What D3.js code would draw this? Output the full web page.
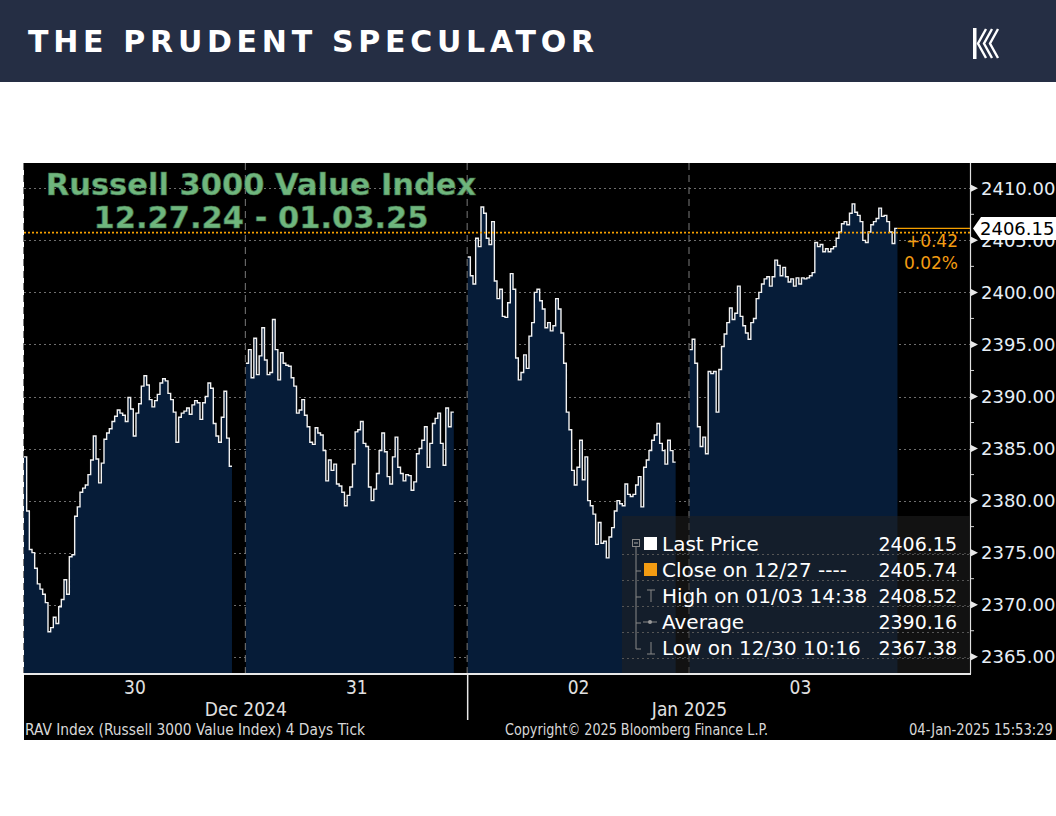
<!DOCTYPE html>
<html><head><meta charset="utf-8">
<script src="https://cdn.jsdelivr.net/npm/d3@7"></script>
<style>
html,body{margin:0;padding:0;background:#fff;}
svg{display:block;}
</style></head>
<body>
<svg id="c" width="1056" height="816"></svg>
<script>
// ---------------- DATA ----------------
const brand = "THE PRUDENT SPECULATOR";
const titleLine1 = "Russell 3000 Value Index";
const titleLine2 = "12.27.24 - 01.03.25";
const dayLabels = ["30", "31", "02", "03"];
const monthLabels = ["Dec 2024", "Jan 2025"];
const monthSpans = [[0, 2], [2, 4]];           // in day slots
// 5-minute steps, 09:30-16:00
const dec30 = [2384.2,2379.0,2375.3,2375.0,2373.5,2372.0,2371.5,2371.0,2370.2,2367.4,
2367.8,2368.8,2368.2,2369.8,2370.5,2372.4,2371.0,2374.6,2374.8,2378.5,
2379.4,2380.8,2381.2,2381.5,2382.5,2383.9,2386.2,2384.0,2381.7,2383.6,
2385.9,2386.5,2386.9,2387.6,2388.1,2388.7,2388.4,2388.2,2387.6,2389.9,
2388.8,2386.2,2388.4,2389.3,2391.0,2392.0,2391.1,2389.7,2389.0,2389.6,
2390.2,2391.3,2391.7,2391.5,2390.3,2389.7,2388.5,2385.6,2388.0,2388.4,
2388.6,2388.9,2388.3,2389.2,2389.6,2389.4,2387.8,2389.4,2390.0,2391.3,
2390.8,2387.4,2386.2,2385.6,2388.0,2390.5,2386.0,2383.3];
const dec31 = [2393.2,2394.5,2391.8,2395.6,2392.1,2393.9,2396.6,2393.5,2392.1,2392.3,
2397.4,2394.5,2391.6,2394.2,2393.2,2393.0,2392.9,2391.8,2391.0,2388.4,
2388.7,2389.7,2388.2,2387.1,2385.6,2385.4,2387.0,2386.5,2386.3,2384.8,
2381.9,2383.9,2382.9,2383.5,2381.6,2381.4,2380.8,2379.5,2380.5,2381.3,
2383.5,2386.6,2386.8,2387.6,2385.5,2385.2,2381.3,2380.0,2381.1,2382.6,
2384.8,2386.5,2384.7,2382.3,2381.6,2384.2,2386.1,2383.2,2382.6,2381.9,
2382.5,2382.4,2381.0,2381.8,2384.5,2385.0,2385.8,2387.1,2383.2,2385.5,
2387.4,2387.9,2388.4,2385.5,2383.4,2388.9,2387.1,2388.5];
const jan02 = [2403.4,2401.6,2400.8,2405.2,2404.4,2408.2,2407.6,2405.2,2404.6,2406.8,
2401.1,2399.4,2400.3,2397.7,2397.6,2399.0,2401.8,2400.3,2393.7,2391.6,
2392.3,2394.0,2392.7,2395.8,2397.1,2400.0,2400.3,2399.2,2398.4,2396.6,
2397.1,2396.3,2396.8,2399.4,2398.4,2396.1,2393.2,2388.5,2386.8,2382.9,
2381.5,2383.2,2385.8,2382.0,2384.2,2380.0,2379.5,2378.7,2375.8,2377.9,
2375.9,2376.1,2374.5,2376.5,2377.4,2379.0,2380.0,2379.7,2379.5,2381.6,
2380.6,2380.4,2380.6,2381.5,2382.3,2379.4,2383.2,2383.9,2384.8,2385.8,
2386.3,2387.4,2385.5,2384.8,2383.5,2385.8,2384.8,2383.7];
const jan03 = [2394.5,2395.5,2393.2,2387.1,2385.2,2386.1,2384.5,2392.4,2392.2,2392.4,
2388.5,2392.6,2394.8,2396.0,2397.1,2398.5,2397.4,2398.0,2400.6,2397.7,
2396.8,2396.1,2395.5,2397.1,2397.5,2399.4,2400.0,2400.8,2401.3,2401.5,
2400.6,2401.5,2403.1,2402.6,2401.6,2402.4,2401.5,2401.0,2401.3,2400.6,
2401.4,2400.8,2401.4,2401.3,2401.4,2401.6,2401.9,2404.8,2404.4,2404.6,
2403.9,2404.2,2403.9,2404.2,2404.4,2405.2,2405.8,2406.6,2406.8,2406.5,
2407.6,2408.5,2407.7,2407.4,2406.8,2405.0,2404.8,2405.8,2406.5,2406.8,
2407.1,2408.1,2407.3,2407.4,2406.8,2405.8,2404.7,2406.15];
const days = [dec30, dec31, jan02, jan03];
const yTicks = [2365, 2370, 2375, 2380, 2385, 2390, 2395, 2400, 2405, 2410];
const yMinorTicks = [2367.5, 2372.5, 2377.5, 2382.5, 2387.5, 2392.5, 2397.5, 2402.5, 2407.5];
const prevClose = 2405.74;
const lastPrice = 2406.15;
const changeLabels = ["+0.42", "0.02%"];
const legendLabels = ["Last Price", "Close on 12/27 ----", "High on 01/03 14:38", "Average", "Low on 12/30 10:16"];
const legendValues = ["2406.15", "2405.74", "2408.52", "2390.16", "2367.38"];
const legendIcons = ["white", "orange", "high", "avg", "low"];
const footerLeft = "RAV Index (Russell 3000 Value Index) 4 Days  Tick";
const footerMid = "Copyright\u00a9 2025 Bloomberg Finance L.P.";
const footerRight = "04-Jan-2025 15:53:29";

// ---------------- LAYOUT ----------------
const W = 1056, H = 816;
const P = {left: 24, right: 970, top: 163, bottom: 673};
const stepMin = 5, slotMin = 416, totalMin = 1774;
const svg = d3.select("#c");

// header
svg.append("rect").attr("x", 0).attr("y", 0).attr("width", W).attr("height", 82).attr("fill", "#252e44");
svg.append("text").attr("x", 28).attr("y", 52).text(brand)
  .attr("font-family", "'DejaVu Sans', sans-serif").attr("font-weight", "bold")
  .attr("font-size", 30).attr("fill", "#fff")
  .attr("textLength", 566).attr("lengthAdjust", "spacing");
// logo (stylised striped K)
const logo = svg.append("g").attr("stroke", "#fff").attr("stroke-width", 2.4).attr("fill", "none");
[0, 6, 12].forEach(o => {
  logo.append("polyline").attr("points", `${986 + o},29 ${978 + o},43.5 ${986 + o},58`);
});
svg.append("rect").attr("x", 973).attr("y", 28).attr("width", 3.5).attr("height", 31).attr("fill", "#fff");

// chart background
svg.append("rect").attr("x", P.left).attr("y", P.top).attr("width", W - P.left).attr("height", 740 - P.top).attr("fill", "#000");

const x = d3.scaleLinear().domain([0, totalMin]).range([P.left, P.right]);
const y = d3.scaleLinear().domain([2363.44, 2412.43]).range([P.bottom, P.top]);
const xOf = (d, i) => x(d * slotMin + i * stepMin);

// grid
svg.append("g").selectAll("line").data(yTicks).join("line")
  .attr("x1", P.left).attr("x2", P.right).attr("y1", d => Math.round(y(d)) + 0.5).attr("y2", d => Math.round(y(d)) + 0.5)
  .attr("stroke", "#6e6e6e").attr("stroke-width", 1).attr("stroke-dasharray", "2,3");

// areas + lines
const area = d3.area().curve(d3.curveStepAfter).x(p => p[0]).y0(P.bottom).y1(p => p[1]);
const line = d3.line().curve(d3.curveStepAfter).x(p => p[0]).y(p => p[1]);
days.forEach((vals, d) => {
  const pts = vals.map((v, i) => [xOf(d, i), y(v)]);
  pts.push([xOf(d, vals.length), y(vals[vals.length - 1])]);
  svg.append("path").attr("d", area(pts)).attr("fill", "#061c38");
  svg.append("path").attr("d", line(pts)).attr("fill", "none").attr("stroke", "#f2f2f2").attr("stroke-width", 1.4);
});

// day separators
svg.append("g").selectAll("line").data(d3.range(4)).join("line")
  .attr("x1", d => x(d * slotMin) - 0.5).attr("x2", d => x(d * slotMin) - 0.5)
  .attr("y1", P.top).attr("y2", P.bottom)
  .attr("stroke", "#7a7a7a").attr("stroke-width", 1).attr("stroke-dasharray", "7,5");

// previous close line
svg.append("line").attr("x1", P.left).attr("x2", P.right).attr("y1", y(prevClose)).attr("y2", y(prevClose))
  .attr("stroke", "#f5a000").attr("stroke-width", 1.8).attr("stroke-dasharray", "2,2");
// last price continuation
svg.append("line").attr("x1", xOf(3, jan03.length)).attr("x2", P.right).attr("y1", y(lastPrice)).attr("y2", y(lastPrice))
  .attr("stroke", "#f5a000").attr("stroke-width", 1.2);

// title
const tg = svg.append("g").attr("font-family", "'DejaVu Sans', sans-serif").attr("font-weight", "bold")
  .attr("font-size", 30.5).attr("fill", "#6fb67d").attr("text-anchor", "middle")
  .attr("stroke", "#3d6b47").attr("stroke-width", 0.6);
tg.append("text").attr("x", 261).attr("y", 195).text(titleLine1);
tg.append("text").attr("x", 261).attr("y", 228).text(titleLine2);

// change labels
const cg = svg.append("g").attr("font-family", "'DejaVu Sans', sans-serif").attr("font-size", 17)
  .attr("fill", "#f39c12").attr("text-anchor", "end");
cg.append("text").attr("x", 958).attr("y", 247).text(changeLabels[0]);
cg.append("text").attr("x", 958).attr("y", 269).text(changeLabels[1]);

// right axis
svg.append("line").attr("x1", P.right + 0.5).attr("x2", P.right + 0.5).attr("y1", P.top).attr("y2", P.bottom + 1)
  .attr("stroke", "#e0e0e0").attr("stroke-width", 1.2);
const ax = svg.append("g");
ax.selectAll("path.maj").data(yTicks).join("path").attr("class", "maj")
  .attr("d", d => `M${P.right + 1},${y(d) - 3.5}L${P.right + 8},${y(d)}L${P.right + 1},${y(d) + 3.5}Z`)
  .attr("fill", "#e8e8e8");
ax.selectAll("line.min").data(yMinorTicks).join("line").attr("class", "min")
  .attr("x1", P.right + 1).attr("x2", P.right + 4).attr("y1", d => y(d)).attr("y2", d => y(d))
  .attr("stroke", "#d0d0d0").attr("stroke-width", 1);
ax.selectAll("text").data(yTicks).join("text")
  .attr("x", P.right + 11).attr("y", d => y(d) + 6.5).text(d => d3.format(".2f")(d))
  .attr("font-family", "'DejaVu Sans', sans-serif").attr("font-size", 18).attr("fill", "#e6eef6");

// last price tag
const ty = y(lastPrice);
svg.append("path").attr("d", `M${P.right + 3},${ty}L${P.right + 11},${ty - 11.5}L${W},${ty - 11.5}L${W},${ty + 11.5}L${P.right + 11},${ty + 11.5}Z`)
  .attr("fill", "#fff");
svg.append("text").attr("x", P.right + 10).attr("y", ty + 6.5).text(d3.format(".2f")(lastPrice))
  .attr("font-family", "'DejaVu Sans', sans-serif").attr("font-size", 18).attr("fill", "#000");

// legend
const L = {x: 622, y: 516, w: P.right - 622, h: P.bottom - 516};
svg.append("rect").attr("x", L.x).attr("y", L.y).attr("width", L.w).attr("height", L.h).attr("fill", "rgba(32,32,32,0.55)");
const rowY = i => 551 + i * 26;
const lg = svg.append("g");
legendLabels.forEach((lab, i) => {
  lg.append("line").attr("x1", L.x).attr("x2", L.x + L.w).attr("y1", rowY(i) + 3.5).attr("y2", rowY(i) + 3.5)
    .attr("stroke", "#555").attr("stroke-dasharray", "2,3");
  lg.append("text").attr("x", 662).attr("y", rowY(i)).text(lab)
    .attr("font-family", "'DejaVu Sans', sans-serif").attr("font-size", 20).attr("fill", "#fff");
  lg.append("text").attr("x", 957).attr("y", rowY(i)).text(legendValues[i]).attr("text-anchor", "end")
    .attr("font-family", "'DejaVu Sans', sans-serif").attr("font-size", 19).attr("fill", "#fff");
});
// tree
lg.append("rect").attr("x", 632.5).attr("y", 539.5).attr("width", 7).attr("height", 7).attr("fill", "none").attr("stroke", "#888");
lg.append("line").attr("x1", 634).attr("x2", 638).attr("y1", 543).attr("y2", 543).attr("stroke", "#aaa");
lg.append("line").attr("x1", 636).attr("x2", 636).attr("y1", 547).attr("y2", rowY(4) - 6).attr("stroke", "#888");
[1, 2, 3, 4].forEach(i => lg.append("line").attr("x1", 636).attr("x2", 641).attr("y1", rowY(i) - 6).attr("y2", rowY(i) - 6).attr("stroke", "#888"));
legendIcons.forEach((ic, i) => {
  const cy = rowY(i) - 8;
  if (ic === "white" || ic === "orange") {
    lg.append("rect").attr("x", 644).attr("y", cy - 6).attr("width", 13).attr("height", 13).attr("fill", ic === "white" ? "#fff" : "#f39c12");
  } else if (ic === "high") {
    lg.append("path").attr("d", `M647,${cy - 5}H655M651,${cy - 5}V${cy + 7}`).attr("stroke", "#888").attr("fill", "none");
  } else if (ic === "avg") {
    lg.append("path").attr("d", `M643,${cy + 1}H657`).attr("stroke", "#888");
    lg.append("circle").attr("cx", 650).attr("cy", cy + 1).attr("r", 2).attr("fill", "#999");
  } else {
    lg.append("path").attr("d", `M647,${cy + 7}H655M651,${cy + 7}V${cy - 5}`).attr("stroke", "#888").attr("fill", "none");
  }
});

// x axis
svg.append("line").attr("x1", P.left).attr("x2", P.right + 1).attr("y1", P.bottom + 1).attr("y2", P.bottom + 1)
  .attr("stroke", "#e8e8e8").attr("stroke-width", 2);
svg.append("line").attr("x1", x(2 * slotMin)).attr("x2", x(2 * slotMin)).attr("y1", P.bottom + 1).attr("y2", 720)
  .attr("stroke", "#e8e8e8").attr("stroke-width", 1.5);
const condensed = "'DejaVu Sans Condensed', 'Liberation Sans Narrow', 'Roboto Condensed', sans-serif";
svg.append("g").selectAll("text").data(dayLabels).join("text")
  .attr("x", (d, i) => x(i * slotMin + slotMin / 2)).attr("y", 694).attr("text-anchor", "middle").text(d => d)
  .attr("font-family", condensed).attr("font-size", 19).attr("fill", "#e0e0e0");
svg.append("g").selectAll("text").data(monthLabels).join("text")
  .attr("x", (d, i) => x((monthSpans[i][0] + monthSpans[i][1]) / 2 * slotMin)).attr("y", 716).attr("text-anchor", "middle").text(d => d)
  .attr("font-family", condensed).attr("font-size", 19).attr("fill", "#e0e0e0");

// footer
const fg = svg.append("g").attr("font-family", condensed).attr("font-size", 15).attr("fill", "#d8d8d8")
  .attr("lengthAdjust", "spacingAndGlyphs");
fg.append("text").attr("x", 25).attr("y", 735).attr("textLength", 340).attr("lengthAdjust", "spacingAndGlyphs").text(footerLeft);
fg.append("text").attr("x", 505).attr("y", 735).attr("textLength", 263).attr("lengthAdjust", "spacingAndGlyphs").text(footerMid);
fg.append("text").attr("x", 909).attr("y", 735).attr("textLength", 144).attr("lengthAdjust", "spacingAndGlyphs").text(footerRight);
</script>
</body></html>
